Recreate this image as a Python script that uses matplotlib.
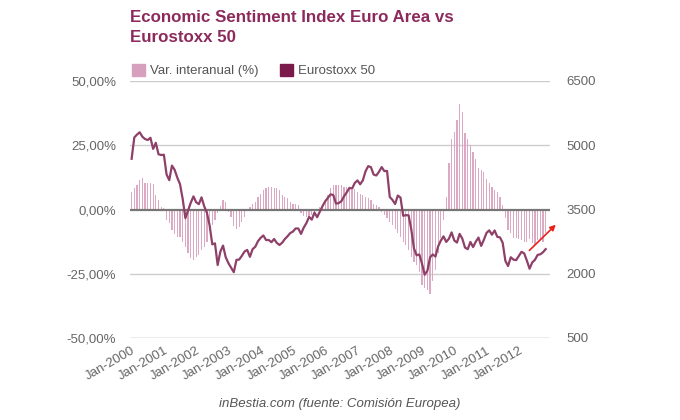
"""
Economic Sentiment Index (var. interanual) vs Eurostoxx 50, 2000-2012
"""

import numpy as np
import matplotlib
matplotlib.use("Agg")
import matplotlib.pyplot as plt
from matplotlib.patches import Patch
from matplotlib.ticker import FuncFormatter

# Variación interanual del ESI (%), mensual desde Jan-2000
esi_2000 = [6.9, 8.2, 9.5, 11.4, 12.1, 10.5, 10.2, 10.2, 10.0, 5.6, 3.6, 1.0]
esi_2001 = [0.4, -4.0, -5.4, -8.0, -9.5, -10.6, -10.6, -12.6, -14.5, -17.0, -19.0, -19.7]
esi_2002 = [-18.4, -17.7, -15.8, -14.5, -12.6, -8.0, -6.0, -4.0, -1.5, 1.5, 3.6, 3.0]
esi_2003 = [-1.0, -3.0, -6.5, -7.5, -6.8, -5.0, -3.0, -0.5, 1.0, 2.3, 3.0, 5.0]
esi_2004 = [6.2, 7.5, 8.2, 8.8, 8.8, 8.5, 8.2, 7.5, 5.6, 5.0, 4.3, 3.0]
esi_2005 = [2.3, 2.3, 1.7, -1.5, -2.5, -3.0, -2.5, -2.0, -1.0, 0.3, 0.8, 1.5]
esi_2006 = [3.0, 5.5, 8.5, 9.7, 9.5, 9.5, 9.5, 8.8, 8.8, 8.2, 7.5, 7.8]
esi_2007 = [6.9, 6.2, 5.6, 5.0, 4.3, 3.6, 2.3, 1.7, 1.0, -0.9, -2.2, -3.5]
esi_2008 = [-4.8, -6.0, -7.4, -9.3, -10.6, -12.6, -13.9, -15.8, -18.4, -20.4, -21.7, -24.3]
esi_2009 = [-29.4, -30.7, -31.4, -32.7, -28.0, -23.6, -17.0, -11.0, -4.0, 5.0, 17.9, 27.6]
esi_2010 = [30.0, 34.8, 41.0, 38.0, 29.6, 27.6, 25.0, 22.4, 19.8, 16.0, 15.5, 14.7]
esi_2011 = [12.0, 10.5, 8.8, 7.5, 7.0, 5.0, 1.7, -3.4, -8.0, -9.3, -11.0, -11.0]
esi_2012 = [-11.5, -11.9, -12.5, -12.5, -11.5, -13.0, -13.9, -12.0, -11.5, -12.5, -9.3]

# Eurostoxx 50, cierre mensual
sx_2000 = [4684, 5182, 5249, 5303, 5200, 5145, 5122, 5175, 4915, 5057, 4790, 4772]
sx_2001 = [4779, 4318, 4185, 4525, 4426, 4243, 4091, 3744, 3297, 3479, 3658, 3806]
sx_2002 = [3670, 3625, 3784, 3574, 3425, 3133, 2686, 2710, 2204, 2518, 2657, 2386]
sx_2003 = [2248, 2140, 2036, 2324, 2331, 2419, 2519, 2556, 2395, 2575, 2631, 2761]
sx_2004 = [2839, 2894, 2787, 2788, 2737, 2811, 2720, 2671, 2726, 2811, 2876, 2951]
sx_2005 = [2984, 3058, 3056, 2930, 3077, 3182, 3327, 3264, 3429, 3320, 3448, 3579]
sx_2006 = [3692, 3775, 3854, 3839, 3637, 3649, 3692, 3809, 3899, 4005, 3988, 4120]
sx_2007 = [4179, 4088, 4182, 4393, 4512, 4489, 4316, 4294, 4381, 4490, 4396, 4400]
sx_2008 = [3792, 3724, 3628, 3826, 3778, 3353, 3367, 3365, 3038, 2592, 2430, 2451]
sx_2009 = [2237, 1977, 2071, 2384, 2451, 2401, 2639, 2775, 2873, 2743, 2817, 2965]
sx_2010 = [2777, 2728, 2931, 2817, 2610, 2574, 2742, 2623, 2748, 2845, 2650, 2793]
sx_2011 = [2954, 3013, 2911, 3011, 2862, 2849, 2723, 2302, 2180, 2385, 2330, 2317]
sx_2012 = [2416, 2512, 2477, 2306, 2118, 2264, 2325, 2440, 2454, 2503, 2575]

years = list(range(2000, 2013))
year_labels = [f"Jan-{y}" for y in years]
left_ticks = [-50, -25, 0, 25, 50]
right_ticks = [500, 2000, 3500, 5000, 6500]

esi = np.array(esi_2000 + esi_2001 + esi_2002 + esi_2003 + esi_2004 + esi_2005
               + esi_2006 + esi_2007 + esi_2008 + esi_2009 + esi_2010 + esi_2011
               + esi_2012)
sx = np.array(sx_2000 + sx_2001 + sx_2002 + sx_2003 + sx_2004 + sx_2005
              + sx_2006 + sx_2007 + sx_2008 + sx_2009 + sx_2010 + sx_2011
              + sx_2012)
months = np.arange(len(esi))

plt.rcParams["font.family"] = ["Liberation Sans", "DejaVu Sans"]

BAR_COLOR = "#dba9c4"
LINE_COLOR = "#8e4068"
DARK = "#7b1b4b"
TITLE_COLOR = "#8c2a5c"
GREY = "#666666"

fig = plt.figure(figsize=(6.8, 4.2), dpi=100)
ax = fig.add_axes([130 / 680, 82 / 420, 420 / 680, 257 / 420])
ax2 = ax.twinx()

# Rejilla
for v in left_ticks:
    if v == 0:
        continue
    ax.axhline(v, color="#cccccc" if v != -50 else "#999999", lw=1, zorder=0)

ax.bar(months, esi, width=0.45, color=BAR_COLOR, zorder=1)
ax.axhline(0, color="#777777", lw=1.6, zorder=2)

ax2.plot(months, sx, color=LINE_COLOR, lw=1.6, zorder=3)

ax.set_xlim(-0.6, 155.6)
ax.set_ylim(-50, 50)
ax2.set_ylim(500, 6500)

ax.set_yticks(left_ticks)
ax.yaxis.set_major_formatter(FuncFormatter(lambda v, _: f"{v:.2f}%".replace(".", ",")))
ax2.set_yticks(right_ticks)
ax.set_xticks(np.arange(0, 12 * len(years), 12))
ax.set_xticklabels(year_labels, rotation=30, ha="right", rotation_mode="anchor")

for a in (ax, ax2):
    for s in a.spines.values():
        s.set_visible(False)
    a.tick_params(length=0, colors=GREY, labelsize=9.5)
ax.tick_params(axis="y", pad=10)
ax2.tick_params(axis="y", pad=12)
ax.tick_params(axis="x", pad=5)

# Flecha roja
ax2.annotate("", xy=(158.5, 3190), xytext=(147.2, 2500),
             arrowprops=dict(arrowstyle="-|>", color="#e8231e", lw=1.2,
                             mutation_scale=8),
             annotation_clip=False)

fig.text(130 / 680, 1 - 10 / 420, "Economic Sentiment Index Euro Area vs\nEurostoxx 50",
         ha="left", va="top", fontsize=12.2, fontweight="bold", color=TITLE_COLOR,
         linespacing=1.45)

handles = [Patch(color="#d79fbe", label="Var. interanual (%)"),
           Patch(color=DARK, label="Eurostoxx 50")]
fig.legend(handles=handles, loc="upper left", bbox_to_anchor=(120 / 680, 1 - 52 / 420),
           ncol=2, frameon=False, fontsize=9.5, labelcolor="#555555",
           handlelength=1.0, handleheight=1.0, handletextpad=0.4, columnspacing=1.6)

fig.text(340 / 680, 1 - 404 / 420, "inBestia.com (fuente: Comisión Europea)",
         ha="center", va="center", fontsize=9.5, style="italic", color="#555555")

fig.savefig("out.png", dpi=100)
